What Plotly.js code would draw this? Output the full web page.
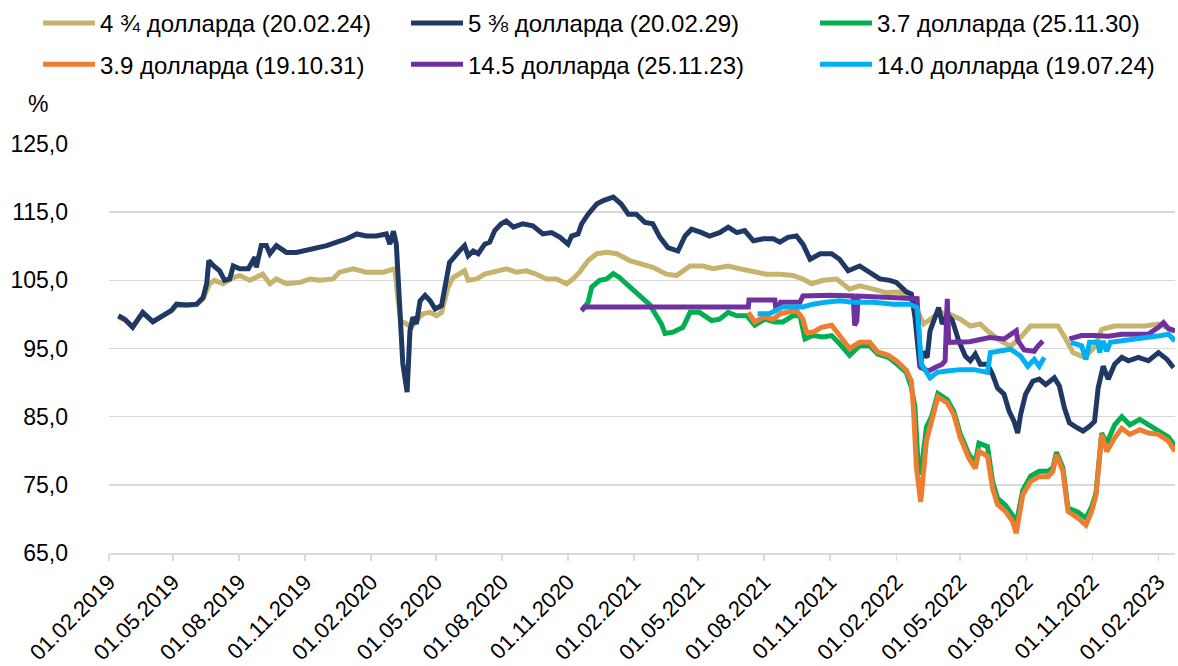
<!DOCTYPE html>
<html>
<head>
<meta charset="utf-8">
<script src="https://cdn.plot.ly/plotly-3.0.1.min.js"></script>
<style>html,body{margin:0;padding:0;background:#fff;}#chart{width:1178px;height:666px;}</style>
</head>
<body>
<div id="chart"></div>
<script>
// ---- Series names ----
const seriesNames = ["4 ¾ долларда (20.02.24)", "5 ⅜ долларда (20.02.29)", "3.7 долларда (25.11.30)",
                     "3.9 долларда (19.10.31)", "14.5 долларда (25.11.23)", "14.0 долларда (19.07.24)"];

// ---- 4 ¾ (20.02.24) ----
const goldDates = ["2019-02-14","2019-02-23","2019-03-06","2019-03-20","2019-04-03","2019-04-17","2019-04-29","2019-05-06","2019-05-20","2019-06-03","2019-06-12",
"2019-06-21","2019-06-28","2019-07-10","2019-07-24","2019-08-02","2019-08-16","2019-09-03","2019-09-13","2019-09-22","2019-10-06","2019-10-25","2019-11-08","2019-11-21","2019-12-10","2019-12-19",
"2020-01-07","2020-01-25","2020-02-18","2020-03-02","2020-03-05","2020-03-09","2020-03-13","2020-03-21","2020-03-28","2020-04-04","2020-04-13","2020-04-23","2020-05-02","2020-05-09","2020-05-18","2020-05-25","2020-06-10","2020-06-15","2020-06-27","2020-07-08","2020-07-24","2020-08-07","2020-08-21","2020-09-04","2020-09-18","2020-10-02","2020-10-16","2020-10-30","2020-11-08","2020-11-17","2020-11-29","2020-12-11","2020-12-25",
"2021-01-08","2021-01-26","2021-02-14","2021-02-27","2021-03-18","2021-04-01","2021-04-20","2021-05-08","2021-05-22","2021-06-12","2021-06-28","2021-07-19","2021-08-04","2021-08-23","2021-09-10","2021-09-24","2021-10-06","2021-10-22","2021-11-10","2021-11-28","2021-12-12","2021-12-31",
"2022-01-18","2022-02-06","2022-02-24","2022-03-11","2022-03-20","2022-04-03","2022-04-17","2022-05-01","2022-05-15","2022-05-29","2022-06-08","2022-06-22","2022-07-10","2022-07-24","2022-08-07","2022-08-26","2022-09-14","2022-09-25","2022-10-05","2022-10-21","2022-11-04","2022-11-14","2022-12-02","2022-12-21",
"2023-01-13","2023-02-01","2023-02-24"];
const goldValues = [99.6,99.2,98.3,100.2,99.0,99.7,100.5,101.3,101.3,101.4,102.3,
104.5,105.0,104.5,105.4,105.7,105.0,105.9,104.5,105.2,104.5,104.7,105.2,105.0,105.2,106.2,
106.7,106.2,106.2,106.7,106.7,102.5,99.1,98.6,98.1,99.1,100.1,100.3,99.8,100.3,104.0,105.4,106.4,105.0,105.2,105.9,106.4,106.7,106.2,106.4,105.9,105.2,105.2,104.5,105.2,106.2,107.9,108.9,109.1,
108.9,107.9,107.4,106.9,105.9,105.7,107.1,107.1,106.7,107.1,106.7,106.2,105.9,105.9,105.7,105.2,104.5,105.0,105.2,103.7,104.2,103.7,
103.2,103.3,102.0,98.6,99.3,100.3,100.0,99.3,98.3,98.6,97.6,96.4,95.3,96.6,98.3,98.3,98.3,96.4,94.4,93.7,95.2,97.8,98.3,98.3,
98.3,98.6,97.6];

// ---- 5 ⅜ (20.02.29) ----
const navyDates = ["2019-02-14","2019-02-23","2019-03-06","2019-03-20","2019-04-03","2019-04-17","2019-04-29","2019-05-06","2019-05-20","2019-06-03","2019-06-12","2019-06-17","2019-06-20","2019-06-26","2019-07-05","2019-07-12","2019-07-19","2019-07-24","2019-08-02","2019-08-14","2019-08-23","2019-08-25","2019-09-01","2019-09-08","2019-09-13","2019-09-22","2019-10-06","2019-10-20","2019-11-03","2019-11-17","2019-12-01","2019-12-15","2019-12-29",
"2020-01-12","2020-01-25","2020-02-08","2020-02-22","2020-02-27","2020-03-03","2020-03-07","2020-03-09","2020-03-13","2020-03-16","2020-03-22","2020-03-26","2020-03-30","2020-04-04","2020-04-09","2020-04-16","2020-04-23","2020-04-30","2020-05-09","2020-05-16","2020-05-20","2020-06-01","2020-06-10","2020-06-15","2020-06-22","2020-06-29","2020-07-08","2020-07-15","2020-07-22","2020-07-31","2020-08-07","2020-08-17","2020-08-30","2020-09-13","2020-09-27","2020-10-09","2020-10-21","2020-11-01","2020-11-06","2020-11-15","2020-11-20","2020-11-29","2020-12-11","2020-12-20",
"2021-01-03","2021-01-14","2021-01-24","2021-02-04","2021-02-16","2021-02-27","2021-03-09","2021-03-20","2021-04-03","2021-04-13","2021-04-22","2021-05-06","2021-05-17","2021-05-31","2021-06-12","2021-06-24","2021-07-05","2021-07-17","2021-07-31","2021-08-14","2021-08-23","2021-09-03","2021-09-15","2021-09-24","2021-10-04","2021-10-18","2021-11-03","2021-11-14","2021-11-26","2021-12-12","2021-12-26",
"2022-01-09","2022-01-23","2022-02-01","2022-02-15","2022-02-22","2022-02-27","2022-03-03","2022-03-06","2022-03-10","2022-03-16","2022-03-20","2022-03-27","2022-04-01","2022-04-06","2022-04-13","2022-04-20","2022-04-29","2022-05-08","2022-05-15","2022-05-22","2022-05-29","2022-06-08","2022-06-15","2022-06-22","2022-07-01","2022-07-08","2022-07-15","2022-07-20","2022-07-24","2022-07-31","2022-08-10","2022-08-19","2022-08-28","2022-09-09","2022-09-16","2022-09-23","2022-09-30","2022-10-12","2022-10-19","2022-10-28","2022-11-04","2022-11-09","2022-11-16","2022-11-23","2022-12-02","2022-12-12","2022-12-21",
"2023-01-04","2023-01-18","2023-02-01","2023-02-13","2023-02-22"];
const navyValues = [99.8,99.3,98.1,100.3,98.9,99.8,100.6,101.5,101.4,101.5,102.5,104.5,107.9,107.2,106.4,105.0,105.2,107.1,106.7,106.7,108.4,106.9,110.1,110.1,108.9,110.1,109.1,109.1,109.4,109.8,110.1,110.6,111.1,
111.8,111.5,111.5,111.8,110.3,112.2,110.3,105.9,100.1,92.8,88.6,97.6,99.6,98.6,102.0,102.8,102.0,100.8,101.3,105.0,107.6,109.1,110.1,108.6,109.3,108.9,110.3,110.6,112.3,113.3,113.7,112.8,113.3,113.0,111.8,112.0,111.3,110.3,111.5,111.8,113.3,114.7,116.2,116.7,
117.2,116.2,114.7,114.7,113.5,113.3,111.3,109.8,109.3,111.5,112.5,112.0,111.5,112.0,112.8,112.0,112.3,110.8,111.1,111.1,110.6,111.3,111.5,110.3,108.1,108.9,108.9,108.1,106.4,107.1,106.2,
105.2,105.0,104.7,103.3,103.0,99.6,95.0,92.2,94.5,93.7,97.6,99.5,101.0,98.6,100.0,99.1,96.1,93.9,93.2,94.2,92.7,92.7,91.2,89.2,88.3,85.8,84.3,82.6,85.3,88.3,90.2,90.5,89.7,90.7,89.5,86.3,84.1,83.3,82.9,83.6,84.3,89.2,92.4,90.5,92.7,93.7,93.2,
93.7,93.2,94.4,93.4,92.2];

// ---- 3.7 (25.11.30) ----
const greenDates = ["2020-11-20","2020-11-22","2020-11-29","2020-12-04","2020-12-15","2020-12-25",
"2021-01-03","2021-01-12","2021-01-21","2021-01-31","2021-02-11","2021-02-23","2021-03-04","2021-03-11","2021-03-16","2021-03-27","2021-04-10","2021-04-20","2021-05-03","2021-05-20","2021-05-31","2021-06-12","2021-06-24","2021-07-08","2021-07-19","2021-08-02","2021-08-16","2021-08-27","2021-09-10","2021-09-20","2021-09-27","2021-10-08","2021-10-22","2021-11-03","2021-11-14","2021-11-28","2021-12-12","2021-12-26",
"2022-01-06","2022-01-21","2022-02-01","2022-02-15","2022-02-22","2022-02-27","2022-03-03","2022-03-07","2022-03-15","2022-03-22","2022-03-31","2022-04-13","2022-04-22","2022-05-01","2022-05-13","2022-05-22","2022-05-27","2022-06-08","2022-06-15","2022-06-22","2022-07-03","2022-07-13","2022-07-18","2022-07-27","2022-08-07","2022-08-19","2022-08-31","2022-09-07","2022-09-12","2022-09-21","2022-09-28","2022-10-12","2022-10-23","2022-10-31","2022-11-06","2022-11-14","2022-11-21","2022-12-02","2022-12-12","2022-12-23",
"2023-01-06","2023-01-18","2023-02-01","2023-02-15","2023-02-24"];
const greenValues = [101.0,100.8,101.8,104.0,105.0,105.2,
106.0,105.4,104.5,103.5,102.5,101.4,99.8,98.6,97.2,97.4,98.1,100.3,100.3,99.1,99.3,100.3,99.8,99.8,98.4,99.3,98.9,98.9,99.8,99.8,96.4,96.9,96.7,96.9,95.7,94.0,95.4,95.4,
94.2,93.7,92.8,91.5,89.3,86.4,78.6,76.5,83.5,85.0,88.4,87.5,85.8,82.5,79.5,78.2,81.1,80.6,75.5,73.0,72.0,70.5,69.3,74.2,76.3,77.0,77.0,77.5,79.8,77.5,71.6,71.0,70.1,71.8,73.8,82.6,81.1,83.8,85.0,83.8,
84.6,83.8,82.9,82.0,80.7];

// ---- 3.9 (19.10.31) ----
const orangeDates = ["2021-07-10","2021-07-19","2021-07-31","2021-08-14","2021-08-23","2021-09-03","2021-09-15","2021-09-24","2021-09-29","2021-10-08","2021-10-20","2021-11-03","2021-11-10","2021-11-19","2021-11-28","2021-12-12","2021-12-26",
"2022-01-06","2022-01-21","2022-02-01","2022-02-15","2022-02-22","2022-02-25","2022-03-01","2022-03-07","2022-03-15","2022-03-22","2022-03-31","2022-04-13","2022-04-22","2022-05-01","2022-05-13","2022-05-22","2022-05-27","2022-06-08","2022-06-15","2022-06-22","2022-07-03","2022-07-13","2022-07-18","2022-07-27","2022-08-07","2022-08-19","2022-08-31","2022-09-07","2022-09-12","2022-09-21","2022-09-28","2022-10-12","2022-10-23","2022-10-31","2022-11-06","2022-11-14","2022-11-21","2022-12-02","2022-12-12","2022-12-23",
"2023-01-06","2023-01-18","2023-02-01","2023-02-15","2023-02-24"];
const orangeValues = [100.3,98.9,99.6,99.3,100.1,100.3,100.6,99.3,97.4,97.4,98.1,98.4,97.4,96.2,95.0,95.9,95.9,
94.5,94.0,93.2,91.8,90.2,86.0,77.6,72.5,81.5,84.4,87.9,87.0,85.3,81.9,78.9,77.4,79.9,79.2,74.5,72.1,71.1,69.6,67.9,73.5,75.5,76.2,76.2,77.0,79.4,77.0,71.1,70.1,69.1,71.1,73.5,82.4,79.9,81.9,83.3,82.4,
83.1,82.6,82.4,81.4,79.9];

// ---- 14.5 (25.11.23) ----
const purpleDates = ["2020-11-20","2020-11-24","2021-07-10","2021-07-11","2021-08-16","2021-08-17","2021-08-22","2021-08-24","2021-09-20","2021-09-24","2021-11-01","2021-12-03","2021-12-05","2021-12-08","2021-12-10",
"2022-01-15","2022-03-02","2022-03-07","2022-03-18","2022-03-27","2022-04-06","2022-04-10","2022-04-13","2022-04-15","2022-04-22","2022-05-14","2022-06-11","2022-07-01","2022-07-18","2022-07-20","2022-07-29","2022-08-12","2022-08-16","2022-08-24",
"2022-09-10",
"2022-09-30","2022-10-17","2022-11-04","2022-11-23","2022-12-12","2023-01-18","2023-02-01","2023-02-08","2023-02-15","2023-02-24"];
const purpleValues = [100.6,101.1,101.1,102.1,102.1,101.1,101.1,101.8,101.8,102.7,102.8,102.7,98.4,99.0,102.7,
102.6,102.3,92.2,91.7,92.2,92.7,93.2,102.3,95.9,95.9,96.0,96.6,96.4,97.6,96.2,94.8,94.6,95.2,96.1,
null,
96.4,96.9,96.9,96.8,97.1,97.1,98.1,98.8,97.9,97.6];

// ---- 14.0 (19.07.24) ----
const cyanDates = ["2021-07-23","2021-08-08","2021-08-18","2021-08-27","2021-09-24","2021-10-08","2021-10-26","2021-11-14","2021-12-02","2021-12-31",
"2022-01-28","2022-02-20","2022-03-02","2022-03-08","2022-03-20","2022-03-30","2022-04-13","2022-05-01","2022-05-20","2022-06-08","2022-06-12","2022-06-26","2022-07-10","2022-07-24","2022-08-03","2022-08-12","2022-08-19","2022-08-26",
"2022-09-12",
"2022-10-02","2022-10-17","2022-10-23","2022-10-28","2022-11-09","2022-11-11","2022-11-16","2022-11-21","2022-11-26","2022-12-12","2022-12-30",
"2023-01-18","2023-02-05","2023-02-15","2023-02-24"];
const cyanValues = [100.1,100.1,100.6,101.1,101.1,101.5,101.8,102.0,101.8,101.8,
101.5,101.5,101.0,92.7,90.7,91.5,91.7,91.9,91.9,91.5,94.4,94.6,94.9,93.9,92.4,93.4,92.4,93.7,
null,
95.9,95.4,93.4,95.9,95.9,94.4,96.1,94.6,95.9,96.1,96.4,
96.6,96.9,97.1,96.1];

// ---- Axis tick values ----
const yTickValues = [65, 75, 85, 95, 105, 115, 125];

const colors = ["#C6B36D", "#1F3864", "#00B050", "#ED7D31", "#7030A0", "#00B0F0"];
const FONT = "Liberation Sans, Arial, sans-serif";

function mk(i, xs, ys, legendId) {
  return {
    type: "scatter", mode: "lines", x: xs, y: ys, name: seriesNames[i],
    line: {color: colors[i], width: 5}, connectgaps: false,
    legend: legendId, legendgroup: "g" + i
  };
}

const data = [
  mk(0, goldDates, goldValues, "legend"),
  mk(1, navyDates, navyValues, "legend2"),
  mk(2, greenDates, greenValues, "legend3"),
  mk(3, orangeDates, orangeValues, "legend"),
  mk(4, purpleDates, purpleValues, "legend2"),
  mk(5, cyanDates, cyanValues, "legend3")
];

// plot area: left 109, top 143, width 1066, height 410
const legendBase = {
  xref: "paper", yref: "paper", xanchor: "left", yanchor: "top",
  y: (553 - 1) / 410, orientation: "v", tracegroupgap: 7, bgcolor: "rgba(0,0,0,0)",
  font: {family: FONT, size: 24, color: "#000"}, itemwidth: 52
};

const layout = {
  width: 1178, height: 666,
  margin: {l: 109, r: 3, t: 143, b: 113},
  paper_bgcolor: "#fff", plot_bgcolor: "#fff",
  separators: ", ",
  font: {family: FONT, size: 23, color: "#000"},
  showlegend: true,
  legend: Object.assign({}, legendBase, {x: (38 - 109) / 1066}),
  legend2: Object.assign({}, legendBase, {x: (406 - 109) / 1066}),
  legend3: Object.assign({}, legendBase, {x: (815 - 109) / 1066}),
  xaxis: {
    type: "date", range: ["2019-02-01", "2023-02-24"],
    tick0: "2019-02-01", dtick: "M3", tickformat: "%d.%m.%Y", tickangle: -45,
    showgrid: false, zeroline: false, automargin: false,
    showline: true, linecolor: "#D9D9D9", linewidth: 1.5,
    ticks: "outside", ticklen: 6, tickcolor: "#D9D9D9", tickwidth: 1.5,
    tickfont: {family: FONT, size: 22, color: "#000"}
  },
  yaxis: {
    range: [65, 125], tickmode: "array", tickvals: yTickValues, tickformat: ".1f",
    showgrid: true, gridcolor: "#D9D9D9", gridwidth: 1.5, automargin: false,
    zeroline: false, showline: false, ticks: "",
    ticklabelstandoff: 40,
    tickfont: {family: FONT, size: 23, color: "#000"}
  },
  annotations: [{
    text: "%", xref: "paper", yref: "paper", x: -71/1066, y: (553 - 103)/410,
    xanchor: "center", yanchor: "middle", showarrow: false,
    font: {family: FONT, size: 23, color: "#000"}
  }]
};

Plotly.newPlot("chart", data, layout, {displayModeBar: false, staticPlot: true});
</script>
</body>
</html>
